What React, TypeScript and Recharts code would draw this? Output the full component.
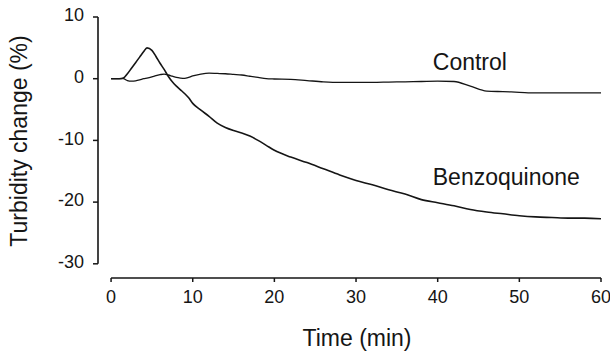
import { LineChart, Line, XAxis, YAxis, ReferenceLine, ReferenceDot, Label } from 'recharts';

const time = [
  0, 1, 1.5, 2, 2.5, 3, 3.5, 4, 4.4, 5,
  5.5, 6, 6.5, 7, 7.5, 8, 8.5, 9, 9.5, 10,
  11, 12, 13, 14, 15, 16, 17, 18, 19, 20,
  22, 24, 26, 28, 30, 32, 34, 36, 38, 40,
  42, 44, 46, 48, 50, 52, 54, 56, 58, 60,
];

const benzoquinone = [
  0, 0, 0.1, 0.8, 1.7, 2.6, 3.5, 4.4, 5.0, 4.6,
  3.6, 2.5, 1.5, 0.4, -0.5, -1.2, -1.8, -2.4, -3.1, -4.0,
  -5.1, -6.1, -7.2, -7.9, -8.4, -8.8, -9.3, -10.0, -10.8, -11.6,
  -12.7, -13.6, -14.6, -15.6, -16.5, -17.2, -18.0, -18.7, -19.6, -20.1,
  -20.6, -21.2, -21.6, -21.9, -22.2, -22.4, -22.5, -22.6, -22.6, -22.7,
];

const control = [
  0, 0, 0, -0.3, -0.4, -0.35, -0.2, 0, 0.1, 0.3,
  0.5, 0.65, 0.75, 0.6, 0.4, 0.2, 0.1, 0.05, 0.2, 0.45,
  0.75, 0.9, 0.85, 0.8, 0.7, 0.6, 0.4, 0.2, 0, -0.05,
  -0.1, -0.3, -0.5, -0.6, -0.6, -0.6, -0.55, -0.5, -0.45, -0.4,
  -0.45, -1.2, -2.0, -2.1, -2.2, -2.3, -2.3, -2.3, -2.3, -2.3,
];

const xTicks = [0, 10, 20, 30, 40, 50, 60];
const yTicks = [-30, -20, -10, 0, 10];

// axes sit a little away from the data, like the scanned original
const xDomain = [-1.6, 60];
const yDomain = [-32.3, 10];

const font = '"Liberation Sans", Arial, sans-serif';
const ink = '#151515';

const data = time.map((t, i) => ({
  time: t,
  control: control[i],
  benzoquinone: benzoquinone[i],
}));

export default function App() {
  return (
    <div style={{ position: 'absolute', left: 0, top: 0, background: '#fff' }}>
      <LineChart
        width={610}
        height={356}
        data={data}
        margin={{ top: 17, right: 9, bottom: 48, left: 0 }}
        style={{ fontFamily: font }}
      >
        <XAxis
          dataKey="time"
          type="number"
          domain={xDomain}
          ticks={xTicks}
          allowDataOverflow
          axisLine={false}
          tickLine={{ stroke: ink, strokeWidth: 1.5 }}
          tickSize={4}
          tickMargin={8}
          height={30}
          tick={{ fill: ink, fontSize: 18, fontFamily: font }}
        >
          <Label
            content={() => (
              <text x={357} y={346} textAnchor="middle" fill={ink} fontSize={23} fontFamily={font}>
                Time (min)
              </text>
            )}
          />
        </XAxis>
        <YAxis
          type="number"
          domain={yDomain}
          ticks={yTicks}
          allowDataOverflow
          axisLine={false}
          tickLine={{ stroke: ink, strokeWidth: 1.5 }}
          tickSize={5}
          tickMargin={9}
          width={98}
          tick={{ fill: ink, fontSize: 18, fontFamily: font, dy: -2 }}
        >
          <Label
            content={() => (
              <text
                x={27}
                y={141}
                transform="rotate(-90 27 141)"
                textAnchor="middle"
                fill={ink}
                fontSize={23}
                fontFamily={font}
              >
                Turbidity change (%)
              </text>
            )}
          />
        </YAxis>

        <ReferenceLine
          segment={[{ x: xDomain[0], y: 10 }, { x: xDomain[0], y: -30 }]}
          stroke={ink}
          strokeWidth={1.6}
          ifOverflow="visible"
        />
        <ReferenceLine
          segment={[{ x: 0, y: yDomain[0] }, { x: 60, y: yDomain[0] }]}
          stroke={ink}
          strokeWidth={1.6}
          ifOverflow="visible"
        />

        <Line
          type="monotone"
          dataKey="control"
          stroke={ink}
          strokeWidth={1.3}
          dot={false}
          isAnimationActive={false}
        />
        <Line
          type="monotone"
          dataKey="benzoquinone"
          stroke={ink}
          strokeWidth={1.6}
          dot={false}
          isAnimationActive={false}
        />

        <ReferenceDot
          x={39.4}
          y={2.7}
          r={0}
          ifOverflow="visible"
          label={{ value: 'Control', position: 'right', offset: 0, fill: ink, fontSize: 23, fontFamily: font }}
        />
        <ReferenceDot
          x={39.4}
          y={-15.9}
          r={0}
          ifOverflow="visible"
          label={{ value: 'Benzoquinone', position: 'right', offset: 0, fill: ink, fontSize: 23, fontFamily: font }}
        />
      </LineChart>
    </div>
  );
}
